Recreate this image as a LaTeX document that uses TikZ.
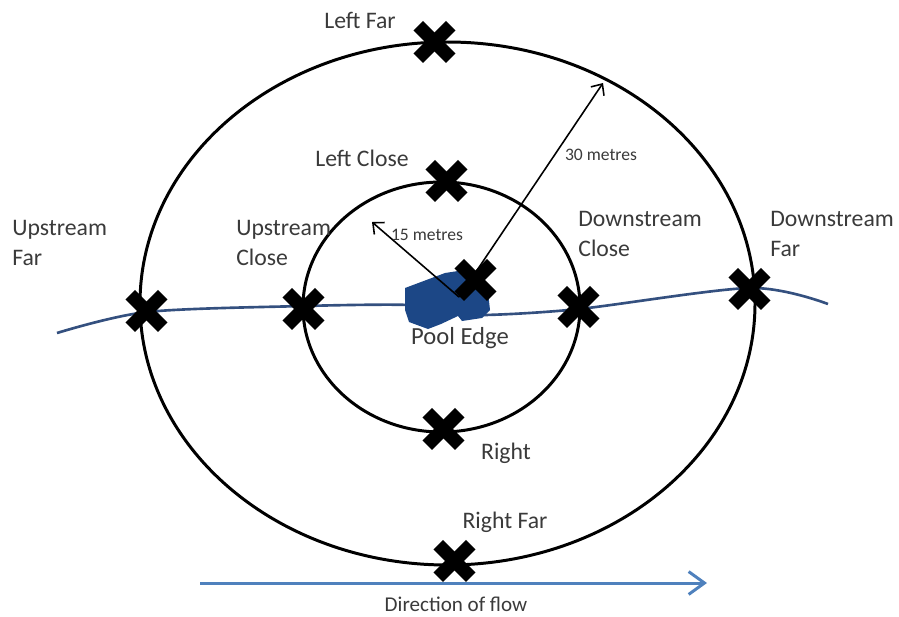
\documentclass[tikz,border=0pt]{standalone}
\usepackage{fontspec}
\setmainfont{Carlito}
\newfontfamily\markfont{DejaVu Sans}
\usetikzlibrary{arrows.meta}
\definecolor{river}{HTML}{34507F}
\definecolor{pool}{HTML}{1C4786}
\definecolor{flow}{HTML}{4F81BD}
\definecolor{ink}{HTML}{3A3A3A}

\begin{document}
\begin{tikzpicture}[x=0.02cm,y=-0.02cm,
  lbl/.style={text=ink,font=\fontsize{13.5}{17}\selectfont,align=left,inner sep=0pt},
  small/.style={lbl,font=\fontsize{10}{12}\selectfont},
  xmark/.style={inner sep=0pt,font=\markfont\fontsize{36}{36}\selectfont},
  ring/.style={line width=1.7pt},
  rad/.style={-{Straight Barb[length=5pt,width=9pt]},line width=0.9pt}]
\useasboundingbox (0,0) rectangle (899,616);
% the two rings
\draw[ring] (447.5,303.5) ellipse [x radius=307.5,y radius=261.5];
\draw[ring] (441.5,307) ellipse [x radius=138.5,y radius=125];
% stream and pool
\draw[river,line width=1.5pt] plot[smooth] coordinates {(57,333) (147,312) (304,306) (410,305) (450,312) (485,315) (579,309) (750,288) (828,304)};
\fill[pool] (405,288) -- (445,273) -- (458,271) -- (488,292) -- (490,310) -- (482,318) -- (462,321)
  -- (458,316) -- (441,324) -- (428,329) -- (409,322) -- (405,310) -- cycle;
% radii
\coordinate (o) at (459,297);
\coordinate (tip15) at (372,222);
\coordinate (tip30) at (603,83);
\draw[rad] (o) -- (tip15);
\draw[rad] (o) -- (tip30);
\node[small] (r15) at (427,235) {15 metres};
\node[small] (r30) at (601,155) {30 metres};
% sampling points
\node[xmark] (lfar) at (435,43) {✖};
\node[xmark] (lclose) at (447,182) {✖};
\node[xmark] (ufar) at (147,312) {✖};
\node[xmark] (uclose) at (304,310) {✖};
\node[xmark] (dclose) at (579,308) {✖};
\node[xmark] (dfar) at (750,290) {✖};
\node[xmark] (right) at (444,430) {✖};
\node[xmark] (rfar) at (455,562) {✖};
\node[xmark] (centre) at (476,281) {✖};
% labels
\node[lbl] (lfarlbl) at (360,20) {Left Far};
\node[lbl] (lcloselbl) at (362,158) {Left Close};
\node[lbl,anchor=west] (ufarlbl) at (12,243) {Upstream\\Far};
\node[lbl,anchor=west] (ucloselbl) at (236,243) {Upstream\\Close};
\node[lbl,anchor=west] (dcloselbl) at (578,234) {Downstream\\Close};
\node[lbl,anchor=west] (dfarlbl) at (770,234) {Downstream\\Far};
\node[lbl,font=\fontsize{14}{17}\selectfont] (poollbl) at (460,338) {Pool Edge};
\node[lbl] (rightlbl) at (506,453) {Right};
\node[lbl] (rfarlbl) at (505,522) {Right Far};
% flow direction
\coordinate (flowA) at (200,583);
\coordinate (flowB) at (707,583);
\draw[flow,line width=1.7pt,-{Straight Barb[length=9pt,width=13pt]}] (flowA) -- (flowB);
\node[lbl,font=\fontsize{12}{14}\selectfont] (flowlbl) at (456,604) {Direction of flow};
\end{tikzpicture}
\end{document}
